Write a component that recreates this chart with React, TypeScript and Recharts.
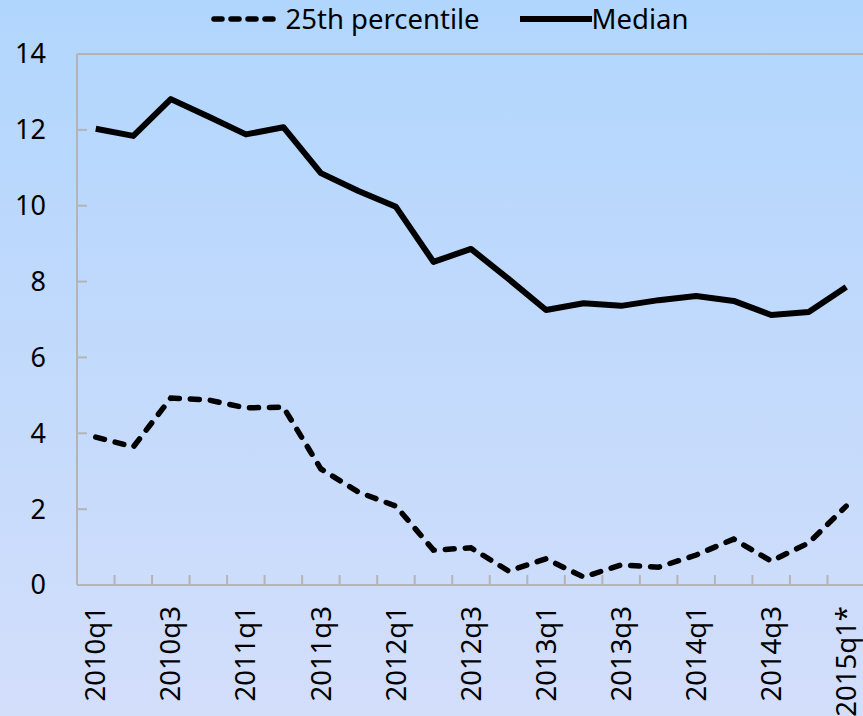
import { LineChart, Line, XAxis, YAxis, Legend, ReferenceLine } from 'recharts';

const quarters = [
  '2010q1', '2010q2', '2010q3', '2010q4',
  '2011q1', '2011q2', '2011q3', '2011q4',
  '2012q1', '2012q2', '2012q3', '2012q4',
  '2013q1', '2013q2', '2013q3', '2013q4',
  '2014q1', '2014q2', '2014q3', '2014q4',
  '2015q1*',
];
const p25 = [3.9, 3.64, 4.93, 4.88, 4.67, 4.69, 3.06, 2.45, 2.08, 0.92, 0.98, 0.37, 0.69, 0.21, 0.53, 0.47, 0.79, 1.21, 0.63, 1.11, 2.08];
const median = [12.03, 11.84, 12.81, 12.35, 11.88, 12.07, 10.86, 10.39, 9.97, 8.52, 8.86, 8.07, 7.25, 7.43, 7.36, 7.51, 7.62, 7.49, 7.12, 7.2, 7.86];
const yTicks = [0, 2, 4, 6, 8, 10, 12, 14];

const data = quarters.map((q, i) => ({ q, p25: p25[i], median: median[i] }));

const FONT = '"Noto Sans", "Open Sans", sans-serif';
const AXIS = '#b4b4b4';

const YTick = (props: any) => {
  const { x, y, payload } = props;
  return (
    <g>
      <line x1={x} x2={x + 10} y1={y} y2={y} stroke={AXIS} strokeWidth={2} />
      <text x={x - 31} y={y} dy="0.35em" textAnchor="end" fontSize={27} fontFamily={FONT} fill="#000">
        {payload.value}
      </text>
    </g>
  );
};

const XTick = (props: any) => {
  const { x, y, payload, index } = props;
  const half = payload.offset ?? 18.75;
  const i = payload.index ?? index;
  const ty = y + 21;
  return (
    <g>
      {i > 0 && <line x1={x - half} x2={x - half} y1={y} y2={y - 10} stroke={AXIS} strokeWidth={2} />}
      {i % 2 === 0 && (
        <text
          x={x}
          y={ty}
          dy="0.35em"
          textAnchor="end"
          transform={`rotate(-90 ${x} ${ty})`}
          fontSize={27.5}
          fontFamily={FONT}
          fill="#000"
        >
          {payload.value}
        </text>
      )}
    </g>
  );
};

const LegendBox = () => (
  <div style={{ display: 'flex', justifyContent: 'center', alignItems: 'center', gap: 40, fontFamily: FONT, fontSize: 27.5, color: '#000', paddingLeft: 36 }}>
    <div style={{ display: 'flex', alignItems: 'center' }}>
      <svg width={75} height={10}>
        <line x1={3} x2={70} y1={5} y2={5} stroke="#000" strokeWidth={5.5} strokeDasharray="8 9" strokeLinecap="round" />
      </svg>
      <span>25th percentile</span>
    </div>
    <div style={{ display: 'flex', alignItems: 'center' }}>
      <svg width={72} height={10}>
        <line x1={0} x2={72} y1={5} y2={5} stroke="#000" strokeWidth={6} />
      </svg>
      <span>Median</span>
    </div>
  </div>
);

export default function App() {
  return (
    <div
      style={{
        position: 'absolute',
        left: 0,
        top: 0,
        width: 863,
        height: 716,
        overflow: 'hidden',
        background: 'linear-gradient(#b1d6fd, #d3defb)',
      }}
    >
      <LineChart width={866} height={716} data={data} margin={{ top: 54, right: 1, bottom: 0, left: 0 }}>
        <XAxis
          dataKey="q"
          scale="band"
          interval={0}
          height={131}
          tickSize={0}
          tickMargin={0}
          tickLine={false}
          stroke={AXIS}
          strokeWidth={2}
          tick={<XTick />}
        />
        <YAxis
          domain={[0, 14]}
          ticks={yTicks}
          width={77}
          tickSize={0}
          tickMargin={0}
          tickLine={false}
          stroke={AXIS}
          strokeWidth={2}
          tick={<YTick />}
        />
        <ReferenceLine y={14} stroke={AXIS} strokeWidth={2} />
        <Legend
          layout="horizontal"
          verticalAlign="middle"
          align="center"
          wrapperStyle={{ top: 0, left: 0, width: 863, height: 40 }}
          content={<LegendBox />}
        />
        <Line
          dataKey="p25"
          name="25th percentile"
          stroke="#000"
          strokeWidth={5.5}
          strokeDasharray="9 11"
          strokeLinecap="round"
          dot={false}
          isAnimationActive={false}
        />
        <Line
          dataKey="median"
          name="Median"
          stroke="#000"
          strokeWidth={6}
          strokeLinejoin="round"
          dot={false}
          isAnimationActive={false}
        />
      </LineChart>
    </div>
  );
}
